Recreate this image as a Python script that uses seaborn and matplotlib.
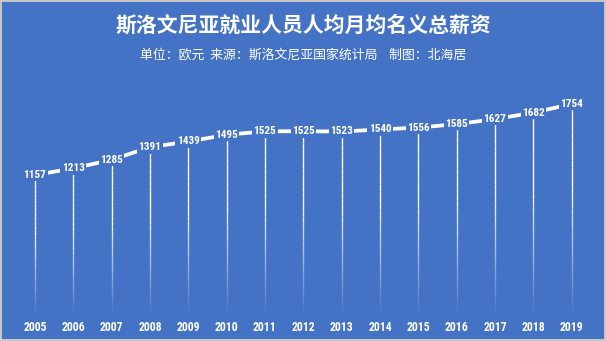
import matplotlib
matplotlib.use("Agg")
import matplotlib.pyplot as plt
from matplotlib import font_manager
import seaborn as sns
import numpy as np
import pandas as pd
from matplotlib.collections import LineCollection

years = [2005, 2006, 2007, 2008, 2009, 2010, 2011, 2012, 2013, 2014, 2015, 2016, 2017, 2018, 2019]
wages = [1157, 1213, 1285, 1391, 1439, 1495, 1525, 1525, 1523, 1540, 1556, 1585, 1627, 1682, 1754]
title = "斯洛文尼亚就业人员人均月均名义总薪资"
subtitle = "单位：欧元  来源：斯洛文尼亚国家统计局    制图：北海居"

BG = "#4472C4"
sns.set_theme(style="white")
plt.rcParams['font.family'] = ['Noto Sans CJK SC', 'DejaVu Sans']

available = {f.name for f in font_manager.fontManager.ttflist}
narrow = None
for cand in ['Liberation Sans Narrow', 'Roboto Condensed', 'DejaVu Sans Condensed',
             'Open Sans Condensed', 'Noto Sans Condensed']:
    if cand in available:
        narrow = cand
        break
if narrow:
    NUM_FONT = [narrow, 'DejaVu Sans']
    NUM_SIZE = 8.5
    LBL_SIZE = 8.1
    PAD = 0.12
else:
    NUM_FONT = ['Liberation Sans', 'DejaVu Sans']
    NUM_SIZE = 7.6
    LBL_SIZE = 7.3
    PAD = 0.1

df = pd.DataFrame({"year": years, "wage": wages})

fig = plt.figure(figsize=(6.06, 3.41), dpi=100, facecolor=BG)
fig.patch.set_edgecolor("#c8c8c8")
fig.patch.set_linewidth(1.5)
ax = fig.add_axes([0.026, 0.0833, 0.949, 0.6974])
ax.set_facecolor(BG)

# gradient drop lines
segs, cols = [], []
n = 30
for x, v in zip(years, wages):
    edges = np.linspace(0, v, n + 1)
    for i in range(n):
        segs.append([(x, edges[i]), (x, edges[i + 1])])
        a = min(1.0, 0.05 + 1.6 * (i / n))
        cols.append((1, 1, 1, a))
ax.add_collection(LineCollection(segs, colors=cols, linewidths=1.0, zorder=1))

sns.lineplot(data=df, x="year", y="wage", ax=ax, color="white", linewidth=2.7,
             zorder=2)

for x, v in zip(years, wages):
    ax.text(x, v, str(v), ha="center", va="center", color="white", fontsize=LBL_SIZE,
            fontweight="bold", family=NUM_FONT, zorder=3,
            bbox=dict(boxstyle=f"square,pad={PAD}", fc=BG, ec="none"))

ax.set_xlim(2004.5, 2019.5)
ax.set_ylim(0, 2000)
ax.set_xticks(years)
ax.set_xticklabels([str(y) for y in years], color="white", fontsize=NUM_SIZE,
                   fontweight="bold", family=NUM_FONT)
ax.set_yticks([])
ax.tick_params(axis="x", length=0, pad=6)
ax.set_xlabel("")
ax.set_ylabel("")
for s in ax.spines.values():
    s.set_visible(False)

fig.text(0.5, 1 - 25 / 341, title, ha="center", va="center", color="white",
         fontsize=15, fontweight="bold")
fig.text(0.5, 1 - 55 / 341, subtitle, ha="center", va="center", color="white",
         fontsize=9.3)

fig.savefig("out.png", dpi=100, facecolor=BG, edgecolor=fig.patch.get_edgecolor())
